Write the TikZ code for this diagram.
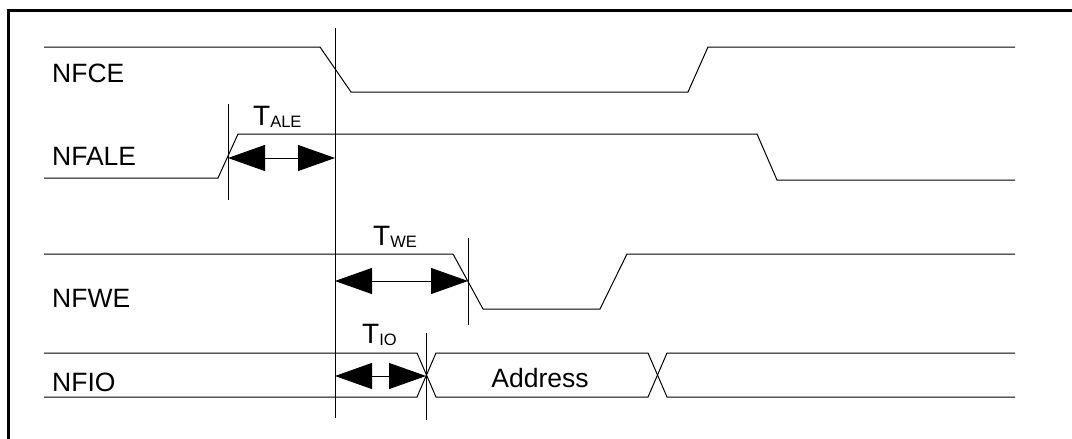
\documentclass[tikz,border=0pt]{standalone}
\usepackage{fontspec}
\setmainfont{Liberation Sans}
\usetikzlibrary{arrows.meta}
\newcommand{\tname}[1]{{\fontsize{28}{28}\selectfont T}{\fontsize{16.5}{16.5}\selectfont\raisebox{-2.5pt}{#1}}}
\tikzset{
  sig/.style={line width=1pt},
  tickline/.style={line width=0.8pt},
  span/.style={line width=0.9pt,{Triangle[length=37pt,width=26pt]}-{Triangle[length=37pt,width=26pt]}},
  lbl/.style={anchor=base west, inner sep=0pt, font=\fontsize{26.5}{26.5}\selectfont},
  tlbl/.style={anchor=base west, inner sep=0pt}
}
\begin{document}
\begin{tikzpicture}[x=1pt,y=-1pt]
\useasboundingbox (0,0) rectangle (1072,439);
% frame
\draw[line width=2.8pt] (8.5,439) -- (8.5,10.5) -- (1072,10.5);
% signal names
\node[lbl] (nfce)  at (52,82)  {NFCE};
\node[lbl] (nfale) at (52,165) {NFALE};
\node[lbl] (nfwe)  at (52,307) {NFWE};
\node[lbl] (nfio)  at (52,391) {NFIO};
% waveforms
\draw[sig] (44,47) -- (320,47) -- (351,92) -- (688,92) -- (708,47) -- (1015,47);
\draw[sig] (44,178) -- (218,178) -- (238,134) -- (757,134) -- (777,180) -- (1015,180);
\draw[sig] (44,254) -- (453,254) -- (483,309) -- (600,309) -- (627,254) -- (1015,254);
% bus
\draw[sig] (44,353) -- (417,353) -- (436,397) -- (648,397) -- (667,353) -- (1015,353);
\draw[sig] (44,397) -- (417,397) -- (436,353) -- (648,353) -- (667,397) -- (1015,397);
\node[lbl, anchor=base] (addr) at (540,387) {Address};
% timing markers
\coordinate (ref0) at (335,28);
\coordinate (ref1) at (335,418);
\draw[tickline] (ref0) -- (ref1);
\draw[tickline] (228,104) -- (228,200);
\draw[tickline] (468,238) -- (468,325);
\draw[tickline] (426,333) -- (426,420);
\draw[span] (228,158) -- (335,158);
\draw[span] (335,281) -- (468,281);
\draw[span] (335,376) -- (426,376);
\node[tlbl] (tale) at (253,125) {\tname{ALE}};
\node[tlbl] (twe)  at (373,245) {\tname{WE}};
\node[tlbl] (tio)  at (362,343) {\tname{IO}};
\end{tikzpicture}
\end{document}
